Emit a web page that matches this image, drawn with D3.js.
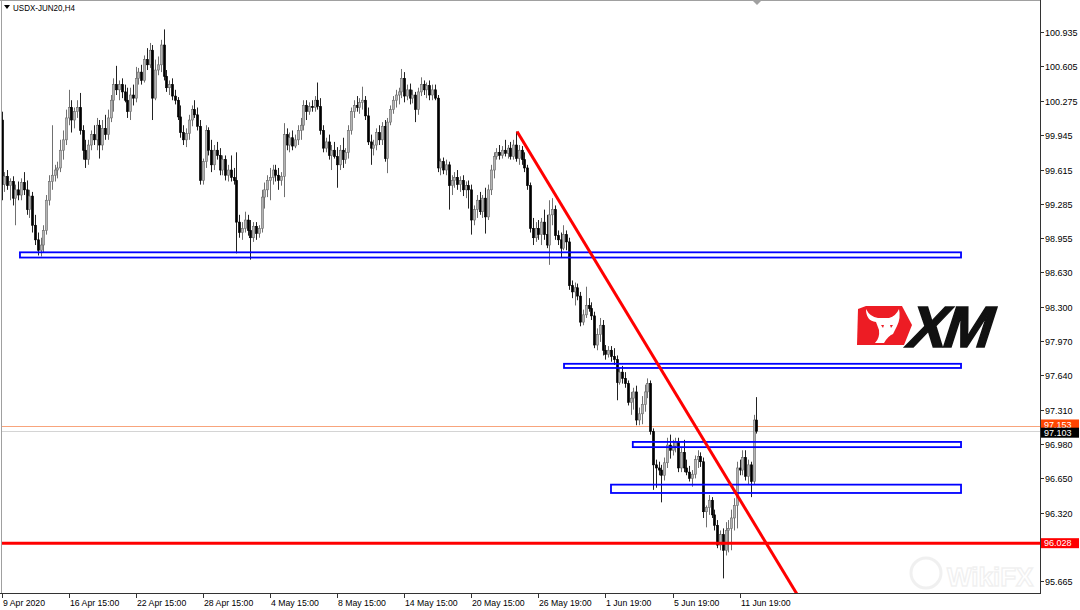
<!DOCTYPE html>
<html><head><meta charset="utf-8">
<script src="https://cdn.jsdelivr.net/npm/d3@7/dist/d3.min.js"></script>
<style>html,body{margin:0;padding:0;background:#fff;}svg{display:block;font-family:"Liberation Sans",Arial,sans-serif;}</style>
</head><body><svg id="c" width="1080" height="610"></svg>
<script>
const symbolTitle = "USDX-JUN20,H4";
const opens = [
100.09,99.47,99.55,99.46,99.50,99.34,99.42,99.37,99.49,99.42,99.23,99.36,99.08,98.94,98.84,98.89,99.03,99.32,99.50,99.56,99.61,99.63,99.80,99.90,
100.11,100.21,100.09,100.17,100.21,99.99,99.80,99.71,99.85,99.95,99.90,100.04,99.85,100.01,99.95,100.11,100.28,100.43,100.38,100.43,100.36,100.28,100.17,100.33,
100.30,100.49,100.55,100.47,100.67,100.62,100.76,100.30,100.57,100.62,100.81,100.51,100.40,100.43,100.32,100.28,100.12,99.97,99.90,99.96,100.09,100.19,100.14,100.03,
99.51,99.69,99.99,99.80,99.66,99.80,99.75,99.61,99.71,99.56,99.61,99.54,99.51,99.11,99.01,99.05,99.13,99.03,98.96,99.07,99.00,99.05,99.35,99.42,
99.51,99.54,99.61,99.56,99.51,99.55,99.95,99.85,99.92,99.84,99.90,99.99,100.04,100.23,100.17,100.22,100.21,100.28,100.22,99.99,99.82,99.88,99.75,99.80,
99.74,99.66,99.80,99.71,99.78,99.99,100.17,100.23,100.21,100.26,100.28,100.13,99.88,99.82,99.85,99.97,99.90,100.03,99.72,100.07,100.19,100.28,100.33,100.36,
100.49,100.32,100.38,100.30,100.33,100.19,100.36,100.43,100.38,100.42,100.33,100.38,100.30,99.63,99.69,99.61,99.66,99.46,99.51,99.54,99.47,99.51,99.42,99.46,
99.42,99.13,99.23,99.32,99.21,99.34,99.16,99.42,99.61,99.74,99.78,99.75,99.80,99.77,99.82,99.74,99.85,99.72,99.80,99.71,99.63,99.46,99.05,98.96,
99.05,98.99,99.11,98.99,98.89,99.18,99.23,98.98,98.94,98.86,98.99,98.92,98.50,98.44,98.48,98.40,98.15,98.22,98.31,98.28,98.21,97.93,98.03,98.12,
97.88,97.84,97.88,97.82,97.79,97.57,97.67,97.61,97.56,97.38,97.42,97.48,97.21,97.27,97.36,97.48,97.56,97.10,96.78,96.75,96.73,96.68,96.80,96.97,
96.92,96.96,97.00,96.75,96.90,96.75,96.71,96.65,96.69,96.83,96.86,96.81,96.33,96.37,96.44,96.30,96.20,96.01,96.11,95.96,96.15,96.17,96.27,96.39,
96.75,96.73,96.85,96.67,96.78,96.62,97.21
];
const highs = [
100.17,99.59,99.61,99.53,99.55,99.47,99.50,99.53,99.59,99.51,99.42,99.40,99.18,99.01,98.96,99.08,99.37,99.56,100.04,99.66,99.69,99.90,99.99,100.19,
100.38,100.28,100.21,100.28,100.35,100.04,99.90,99.90,99.99,100.04,100.11,100.09,100.09,100.14,100.19,100.33,100.49,100.61,100.47,100.49,100.43,100.40,100.40,100.43,
100.60,100.59,100.62,100.71,100.78,100.83,100.81,100.67,100.70,100.86,100.96,100.57,100.47,100.49,100.38,100.31,100.23,100.04,100.01,100.14,100.23,100.28,100.21,100.09,
99.72,100.04,100.02,99.90,99.85,99.88,99.82,99.75,99.75,99.66,99.75,99.63,99.78,99.18,99.11,99.21,99.18,99.13,99.11,99.11,99.08,99.42,99.49,99.56,
99.63,99.66,99.66,99.63,99.59,100.06,100.01,99.97,99.99,99.95,100.04,100.11,100.28,100.28,100.26,100.28,100.32,100.45,100.30,100.04,99.92,99.95,99.85,99.88,
99.83,99.85,99.92,99.82,100.04,100.21,100.28,100.32,100.30,100.41,100.32,100.21,99.95,99.90,100.01,100.04,100.07,100.09,100.11,100.23,100.32,100.38,100.40,100.58,
100.55,100.43,100.44,100.38,100.36,100.40,100.50,100.47,100.45,100.47,100.43,100.43,100.33,99.72,99.73,99.71,99.69,99.56,99.59,99.61,99.55,99.56,99.50,99.51,
99.47,99.27,99.37,99.40,99.37,99.44,99.47,99.66,99.78,99.82,99.85,99.84,99.90,99.85,99.88,99.90,99.98,99.85,99.84,99.78,99.66,99.49,99.15,99.11,
99.13,99.15,99.23,99.18,99.32,99.34,99.27,99.03,99.01,99.08,99.03,98.96,98.55,98.53,98.52,98.44,98.27,98.49,98.38,98.34,98.25,98.09,98.19,98.17,
97.93,97.92,97.92,97.90,97.83,97.71,97.73,97.67,97.59,97.48,97.52,97.54,97.33,97.44,97.55,97.61,97.59,97.13,96.83,96.81,96.78,96.85,97.04,97.07,
97.02,97.04,97.04,96.94,97.02,96.83,96.77,96.73,96.87,96.92,96.90,96.85,96.39,96.49,96.47,96.35,96.25,96.15,96.17,96.23,96.25,96.35,96.46,96.81,
96.83,96.92,96.92,96.83,96.81,97.26,97.43
];
const lows = [
99.32,99.40,99.42,99.32,99.27,99.08,99.32,99.32,99.37,99.18,99.15,99.01,98.89,98.79,98.78,98.82,98.99,99.27,99.42,99.50,99.53,99.59,99.71,99.85,
100.04,99.97,100.01,100.11,99.95,99.71,99.63,99.66,99.80,99.85,99.80,99.72,99.80,99.90,99.90,100.07,100.17,100.33,100.28,100.30,100.26,100.11,100.09,100.23,
100.26,100.43,100.43,100.45,100.57,100.59,100.09,100.28,100.52,100.55,100.47,100.36,100.33,100.28,100.24,100.09,99.92,99.85,99.83,99.90,100.03,100.11,99.99,99.47,
99.47,99.63,99.75,99.59,99.61,99.71,99.56,99.56,99.51,99.50,99.50,99.47,98.81,98.96,98.94,99.01,98.98,98.75,98.92,98.94,98.96,99.01,99.24,99.35,
99.32,99.47,99.50,99.42,99.46,99.35,99.80,99.78,99.80,99.82,99.85,99.90,99.99,100.09,100.14,100.17,100.17,100.19,99.95,99.78,99.78,99.71,99.61,99.72,
99.44,99.61,99.63,99.67,99.72,99.95,100.11,100.17,100.15,100.19,100.09,99.85,99.66,99.75,99.80,99.85,99.85,99.69,99.58,100.04,100.15,100.21,100.24,100.30,
100.26,100.28,100.24,100.25,100.07,100.14,100.32,100.33,100.30,100.28,100.28,100.28,99.59,99.56,99.57,99.56,99.23,99.37,99.44,99.42,99.40,99.36,99.34,99.24,
98.99,99.08,99.15,99.18,99.15,99.00,99.13,99.37,99.53,99.71,99.71,99.72,99.74,99.72,99.71,99.71,99.69,99.66,99.66,99.59,99.42,99.01,98.89,98.92,
98.94,98.89,98.94,98.86,98.70,99.08,98.94,98.89,98.77,98.84,98.84,98.46,98.38,98.31,98.36,98.11,98.12,98.19,98.25,98.17,97.90,97.88,97.96,97.83,
97.79,97.81,97.77,97.74,97.40,97.55,97.56,97.52,97.35,97.26,97.31,97.16,97.16,97.17,97.29,97.42,97.07,96.54,96.56,96.68,96.42,96.63,96.75,96.84,
96.87,96.90,96.71,96.71,96.71,96.68,96.62,96.57,96.65,96.75,96.76,96.27,96.18,96.30,96.27,96.15,95.98,95.96,95.69,95.91,95.94,95.96,96.15,96.17,
96.68,96.68,96.63,96.59,96.47,96.59,97.08
];
const closes = [
99.47,99.55,99.46,99.50,99.34,99.42,99.37,99.49,99.42,99.23,99.36,99.08,98.94,98.84,98.89,99.03,99.32,99.50,99.56,99.61,99.63,99.80,99.90,100.11,
100.21,100.09,100.17,100.21,99.99,99.80,99.71,99.85,99.95,99.90,100.04,99.85,100.01,99.95,100.11,100.28,100.43,100.38,100.43,100.36,100.28,100.17,100.33,100.30,
100.49,100.55,100.47,100.67,100.62,100.76,100.30,100.57,100.62,100.81,100.51,100.40,100.43,100.32,100.28,100.12,99.97,99.90,99.96,100.09,100.19,100.14,100.03,99.51,
99.69,99.99,99.80,99.66,99.80,99.75,99.61,99.71,99.56,99.61,99.54,99.51,99.11,99.01,99.05,99.13,99.03,98.96,99.07,99.00,99.05,99.35,99.42,99.51,
99.54,99.61,99.56,99.51,99.55,99.95,99.85,99.92,99.84,99.90,99.99,100.04,100.23,100.17,100.22,100.21,100.28,100.22,99.99,99.82,99.88,99.75,99.80,99.74,
99.66,99.80,99.71,99.78,99.99,100.17,100.23,100.21,100.26,100.28,100.13,99.88,99.82,99.85,99.97,99.90,100.03,99.72,100.07,100.19,100.28,100.33,100.36,100.49,
100.32,100.38,100.30,100.33,100.19,100.36,100.43,100.38,100.42,100.33,100.38,100.30,99.63,99.69,99.61,99.66,99.46,99.51,99.54,99.47,99.51,99.42,99.46,99.42,
99.13,99.23,99.32,99.21,99.34,99.16,99.42,99.61,99.74,99.78,99.75,99.80,99.77,99.82,99.74,99.85,99.72,99.80,99.71,99.63,99.46,99.05,98.96,99.05,
98.99,99.11,98.99,98.89,99.18,99.23,98.98,98.94,98.86,98.99,98.92,98.50,98.44,98.48,98.40,98.15,98.22,98.31,98.28,98.21,97.93,98.03,98.12,97.88,
97.84,97.88,97.82,97.79,97.57,97.67,97.61,97.56,97.38,97.42,97.48,97.21,97.27,97.36,97.48,97.56,97.10,96.78,96.75,96.73,96.68,96.80,96.97,96.92,
96.96,97.00,96.75,96.90,96.75,96.71,96.65,96.69,96.83,96.86,96.81,96.33,96.37,96.44,96.30,96.20,96.01,96.11,95.96,96.15,96.17,96.27,96.39,96.75,
96.73,96.85,96.67,96.78,96.62,97.21,97.103
];
const timeTickIndex = [0,24,48,72,96,120,144,168,192,216,240,264];
const timeTickLabels = ["9 Apr 2020","16 Apr 15:00","22 Apr 15:00","28 Apr 15:00","4 May 15:00","8 May 15:00","14 May 15:00","20 May 15:00","26 May 19:00","1 Jun 19:00","5 Jun 19:00","11 Jun 19:00"];
// 95.990 is covered by the 96.028 level label in the reference, so only its tick mark shows
const priceTickValues = [100.935,100.605,100.275,99.945,99.615,99.285,98.955,98.630,98.300,97.970,97.640,97.310,96.980,96.650,96.320,95.990,95.665];
const priceTickLabels = ["100.935","100.605","100.275","99.945","99.615","99.285","98.955","98.630","98.300","97.970","97.640","97.310","96.980","96.650","96.320","","95.665"];
// support/resistance zones: [start bar, end bar, top price, bottom price]
const zones = [[6.6,343.2,98.82,98.77],[201.2,343.2,97.75,97.71],[225.8,343.2,97.00,96.95],[218.0,343.2,96.59,96.51]];
// trend line: [bar, price] pairs
const trendLine = [[184.4,99.98],[284.5,95.54]];
const levelPrices = [97.153, 97.103, 96.028];
const levelLabels = ["97.153","97.103","96.028"];

const svg = d3.select("#c");
const PL=2, PR=1040, PT=1, PB=594;
const x = d3.scaleLinear().domain([0,24]).range([1.5,68.6]);
const y = d3.scaleLinear().domain([100.935,95.665]).range([32,581]);

svg.append("rect").attr("width",1080).attr("height",610).attr("fill","#fff");
svg.append("defs").append("clipPath").attr("id","clip").append("rect")
  .attr("x",PL).attr("y",PT).attr("width",PR-PL).attr("height",PB-PT);

// borders
svg.append("line").attr("x1",0).attr("x2",PR).attr("y1",0.5).attr("y2",0.5).attr("stroke","#a0a0a0");
svg.append("line").attr("x1",1.5).attr("x2",1.5).attr("y1",0).attr("y2",PB).attr("stroke","#a0a0a0");

// watermark
const wm = svg.append("g").attr("opacity",0.10);
wm.append("circle").attr("cx",926).attr("cy",573).attr("r",15).attr("fill","none").attr("stroke","#777").attr("stroke-width",3);
wm.append("text").text("WikiFX").attr("x",947).attr("y",586).attr("font-size",26).attr("font-weight","bold").attr("fill","none").attr("stroke","#777").attr("stroke-width",1.4);

const plot = svg.append("g").attr("clip-path","url(#clip)");

// price lines (background)
plot.append("line").attr("x1",PL).attr("x2",PR).attr("y1",Math.round(y(levelPrices[0]))+0.5).attr("y2",Math.round(y(levelPrices[0]))+0.5).attr("stroke","#f8a47c").attr("stroke-width",1.2);
plot.append("line").attr("x1",PL).attr("x2",PR).attr("y1",Math.round(y(levelPrices[1]))+0.5).attr("y2",Math.round(y(levelPrices[1]))+0.5).attr("stroke","#d4d4d4").attr("stroke-width",1.2);

const idx = d3.range(closes.length);
plot.selectAll("line.wick").data(idx).join("line").attr("class","wick")
  .attr("x1",i=>Math.round(x(i))+0.5).attr("x2",i=>Math.round(x(i))+0.5)
  .attr("y1",i=>y(Math.max(highs[i],opens[i],closes[i])))
  .attr("y2",i=>y(Math.min(lows[i],opens[i],closes[i])))
  .attr("stroke",i=>closes[i]>=opens[i]?"#707070":"#222").attr("stroke-width",1);
plot.selectAll("rect.body").data(idx).join("rect").attr("class","body")
  .attr("x",i=>Math.round(x(i))-0.6)
  .attr("width",2.2)
  .attr("y",i=>y(Math.max(opens[i],closes[i])))
  .attr("height",i=>Math.max(1,Math.abs(y(opens[i])-y(closes[i]))))
  .attr("fill",i=>closes[i]>=opens[i]?"#b4b4b4":"#000")
  .attr("stroke",i=>closes[i]>=opens[i]?"#6a6a6a":"#000")
  .attr("stroke-width",0.6);

// zones
plot.selectAll("rect.zone").data(zones).join("rect").attr("class","zone")
  .attr("x",d=>x(d[0])).attr("width",d=>x(d[1])-x(d[0]))
  .attr("y",d=>y(d[2])).attr("height",d=>y(d[3])-y(d[2]))
  .attr("fill","none").attr("stroke","#0000ff").attr("stroke-width",1.8);

// red support level
plot.append("line").attr("x1",PL).attr("x2",PR).attr("y1",y(levelPrices[2])).attr("y2",y(levelPrices[2]))
  .attr("stroke","#ff0000").attr("stroke-width",3);

// trend line
plot.append("line")
  .attr("x1",x(trendLine[0][0])).attr("y1",y(trendLine[0][1]))
  .attr("x2",x(trendLine[1][0])).attr("y2",y(trendLine[1][1]))
  .attr("stroke","#ff0000").attr("stroke-width",3);

// XM logo
const logo = svg.append("g");
logo.append("path").attr("d","M858,309 L866,306 L902,306 L912,325 L904,345 L857,345 Z").attr("fill","#ed1c24");
logo.append("path").attr("d","M866,309 Q866,321 876,322 L879,330 Q880,338 875,343 L884,343 Q888,336 893,334 L897,326 Q901,318 899,309 Q896,316 889,318 L878,318 Q870,317 866,309 Z").attr("fill","#fff");
logo.append("path").attr("d","M881,325 L884,325 L883,328 Z M890,325 L893,325 L891,328 Z").attr("fill","#ed1c24");
logo.append("g").attr("transform","translate(904,347) skewX(-18)")
  .append("text").text("XM").attr("font-size",58).attr("font-weight","bold")
  .attr("letter-spacing",-3).attr("fill","#111").attr("stroke","#111").attr("stroke-width",1.5);

// axes lines
svg.append("line").attr("x1",PR+0.5).attr("x2",PR+0.5).attr("y1",0).attr("y2",PB).attr("stroke","#333");
svg.append("line").attr("x1",0).attr("x2",PR+1).attr("y1",PB-0.5).attr("y2",PB-0.5).attr("stroke","#333");

// price ticks
const pt = svg.append("g");
priceTickValues.forEach((v,k)=>{
  const yy = Math.round(y(v))+0.5;
  pt.append("line").attr("x1",PR).attr("x2",PR+4).attr("y1",yy).attr("y2",yy).attr("stroke","#333");
  if (priceTickLabels[k]) pt.append("text").text(priceTickLabels[k]).attr("x",PR+5).attr("y",yy+3.2).attr("font-size",9).attr("fill","#000");
});

// time ticks
timeTickIndex.forEach((t,k)=>{
  const xx = Math.round(x(t))+0.5;
  svg.append("line").attr("x1",xx).attr("x2",xx).attr("y1",PB).attr("y2",PB+4).attr("stroke","#333");
  svg.append("text").text(timeTickLabels[k]).attr("x",xx+0.5).attr("y",606).attr("font-size",8.7).attr("fill","#000");
});

// price label boxes
const boxColors = ["#ff4500","#000000","#ff0000"];
const boxDy = [-1.5, 1.5, 0];
levelPrices.forEach((p,k)=>{
  const yy = y(p) + boxDy[k];
  svg.append("rect").attr("x",PR+1).attr("y",yy-5).attr("width",38).attr("height",10).attr("fill",boxColors[k]);
  svg.append("text").text(levelLabels[k]).attr("x",PR+4).attr("y",yy+3.3).attr("font-size",9).attr("fill","#fff");
});

// header
svg.append("path").attr("d","M4,5 L10,5 L7,9 Z").attr("fill","#000");
svg.append("text").text(symbolTitle).attr("x",13).attr("y",11).attr("font-size",8.6).attr("fill","#000")
  .attr("textLength",62).attr("lengthAdjust","spacingAndGlyphs");
// shift marker
svg.append("path").attr("d","M752,0 L762,0 L757,5 Z").attr("fill","#a0a0a0");
</script></body></html>
